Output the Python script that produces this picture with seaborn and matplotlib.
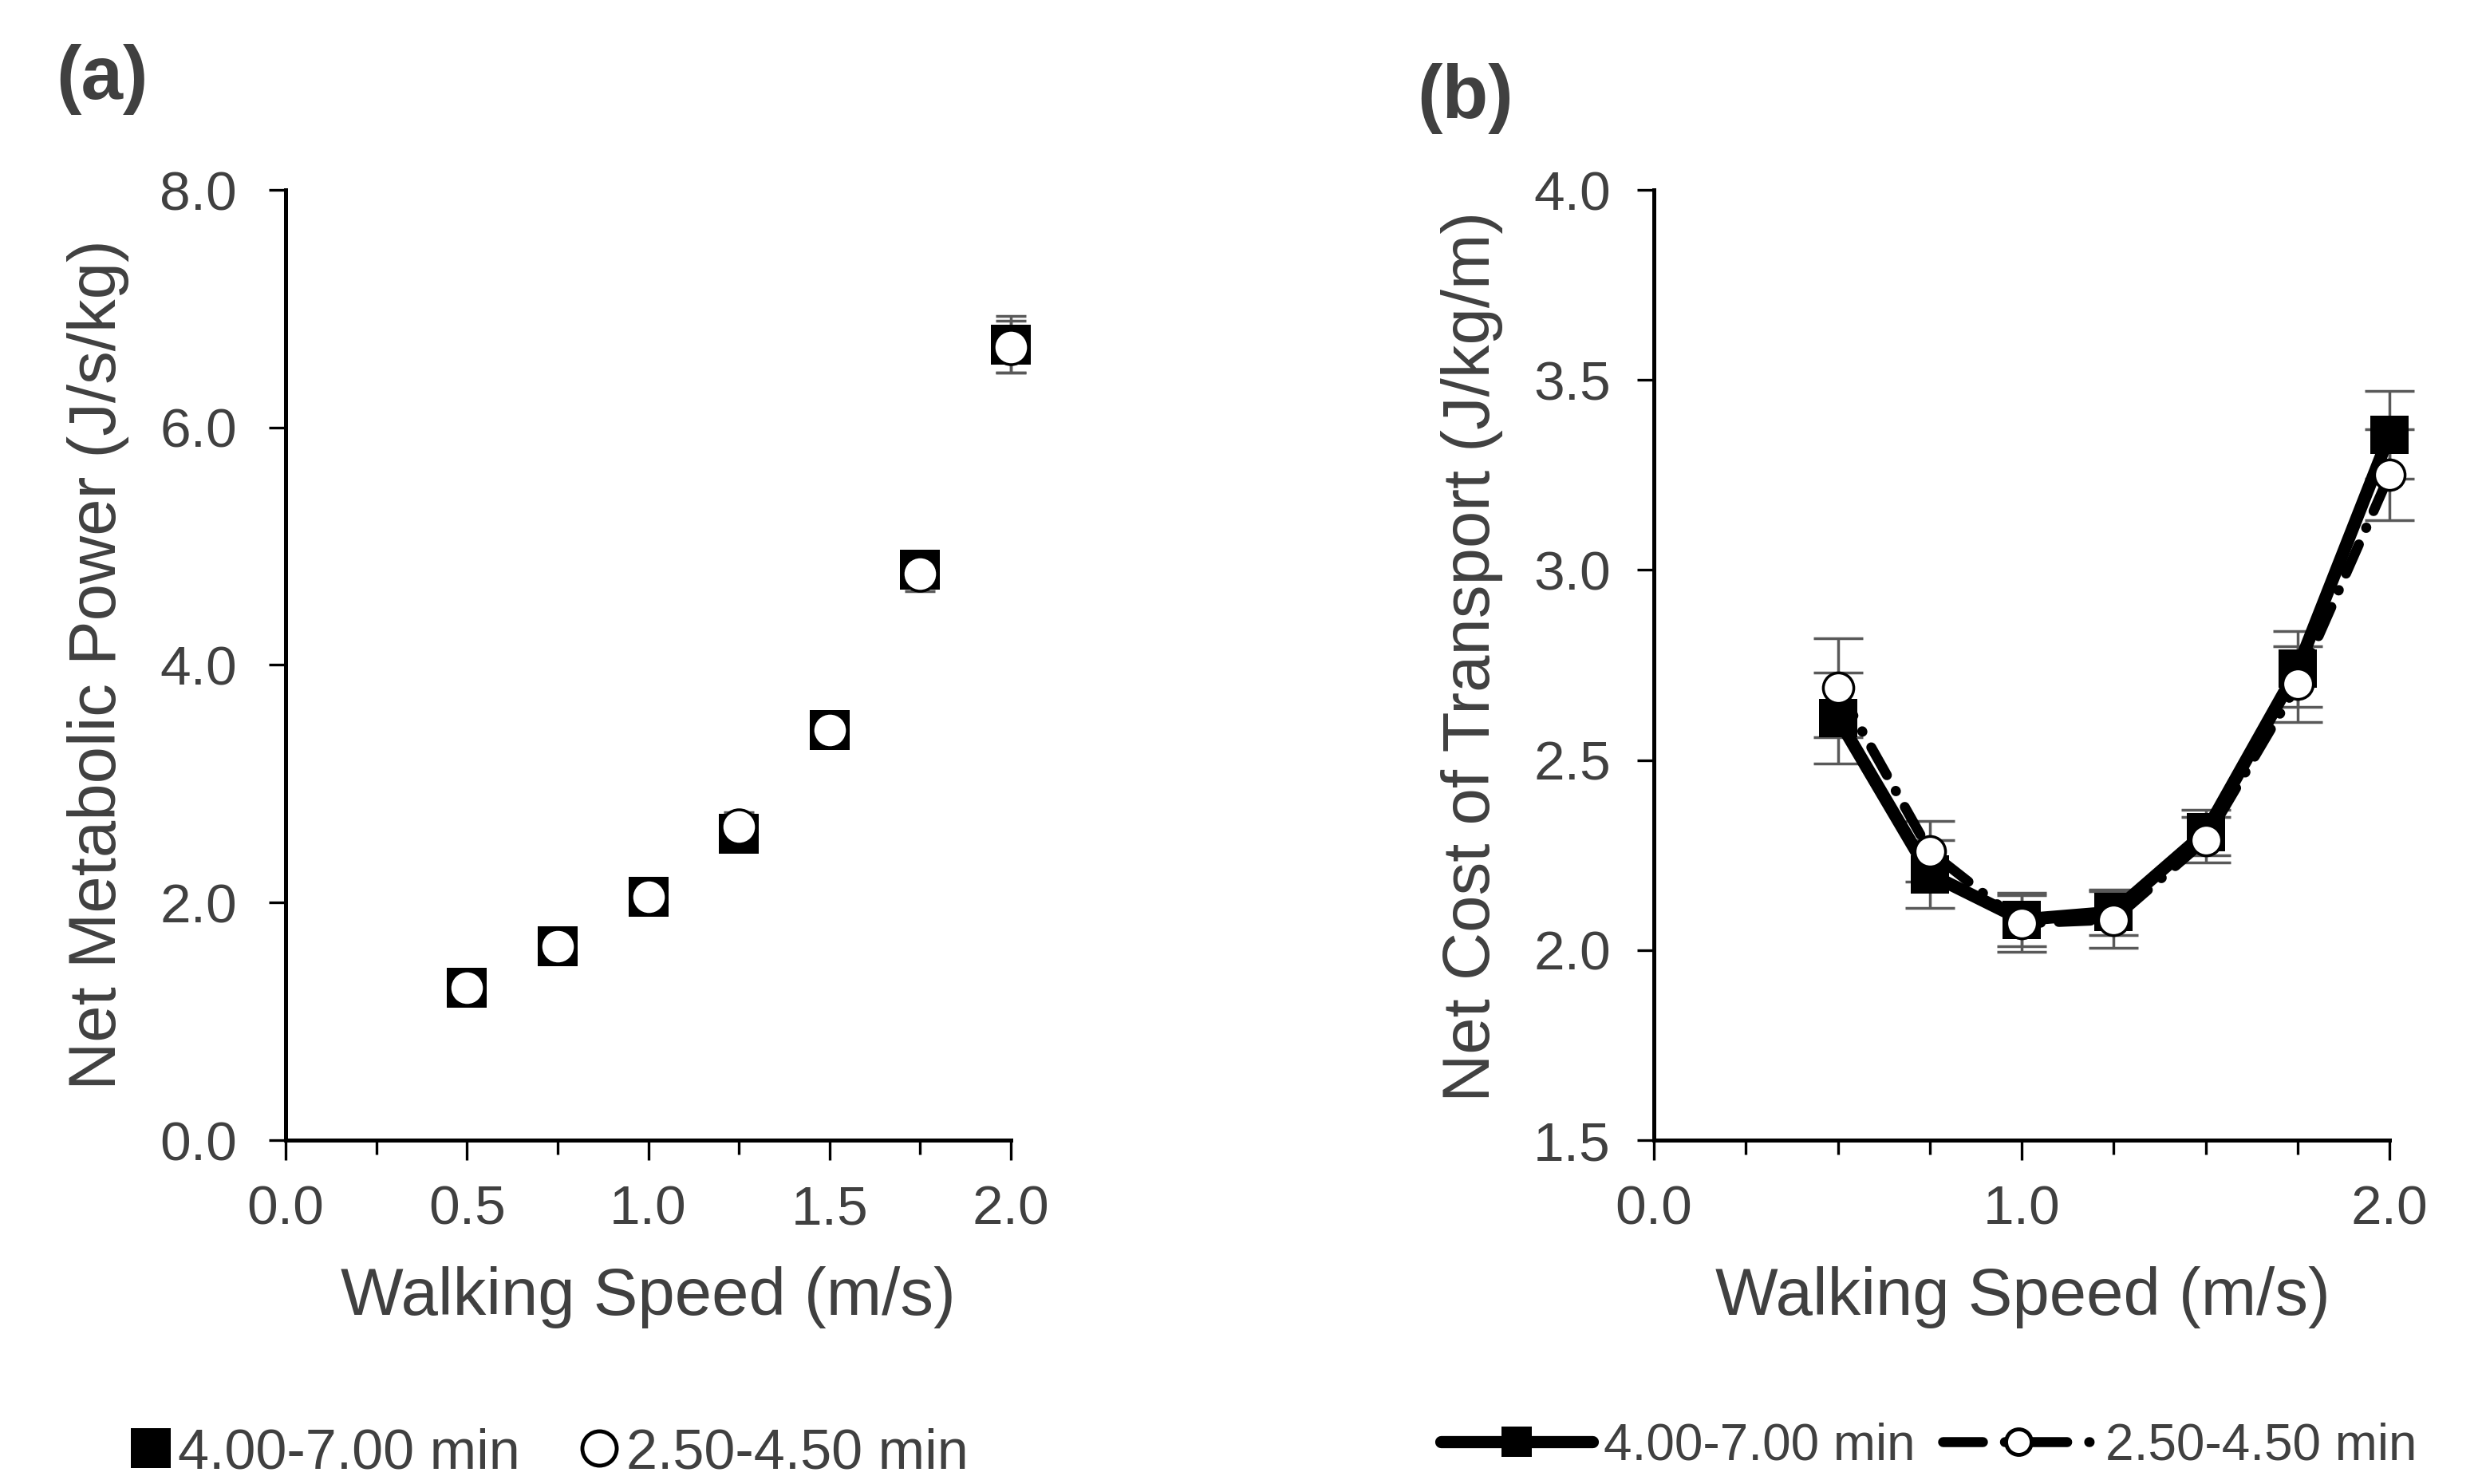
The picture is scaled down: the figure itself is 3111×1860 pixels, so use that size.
import numpy as np
import pandas as pd
import matplotlib
matplotlib.use('Agg')
import matplotlib.pyplot as plt
import seaborn as sns
from matplotlib.lines import Line2D
from matplotlib.ticker import MultipleLocator, FormatStrFormatter

# ---------------- data ----------------
speeds = [0.5, 0.75, 1.0, 1.25, 1.5, 1.75, 2.0]
series_labels = ["4.00-7.00 min", "2.50-4.50 min"]

power_long = [1.28, 1.63, 2.05, 2.58, 3.45, 4.80, 6.70]
power_short = [1.28, 1.63, 2.05, 2.64, 3.45, 4.77, 6.68]
power_long_sd = [0.08, 0.09, 0.10, 0.12, 0.12, 0.15, 0.24]
power_short_sd = [0.08, 0.09, 0.10, 0.12, 0.12, 0.15, 0.22]

cot_long = [2.61, 2.20, 2.08, 2.10, 2.31, 2.74, 3.355]
cot_short = [2.69, 2.26, 2.07, 2.08, 2.29, 2.70, 3.25]
cot_long_sd = [0.12, 0.09, 0.07, 0.06, 0.06, 0.10, 0.115]
cot_short_sd = [0.13, 0.08, 0.075, 0.075, 0.06, 0.10, 0.12]

# ---------------- style ----------------
sns.set_theme(style='white')
plt.rcParams['font.family'] = ['Liberation Sans', 'DejaVu Sans']
TXT = '#404040'
ERR = '#595959'

W, H = 3111, 1860
fig = plt.figure(figsize=(W / 100, H / 100), dpi=100)
fig.patch.set_facecolor('white')

axA = fig.add_axes([358 / W, 1 - 1429 / H, 909 / W, 1191 / H])
axB = fig.add_axes([2073 / W, 1 - 1429 / H, 922 / W, 1191 / H])

TICK_FS = 50
LAB_FS = 60

def style_axes(ax, ypad):
    for s in ['top', 'right']:
        ax.spines[s].set_visible(False)
    for s in ['left', 'bottom']:
        ax.spines[s].set_color('black')
        ax.spines[s].set_linewidth(3.6)
    ax.set_facecolor('white')
    ax.grid(False)
    ax.tick_params(axis='both', which='both', direction='out', color='black',
                   labelcolor=TXT, labelsize=TICK_FS)
    ax.tick_params(axis='x', which='major', length=18, width=2.4, pad=22,
                   bottom=True)
    ax.tick_params(axis='x', which='minor', length=13, width=2.4, bottom=True)
    ax.tick_params(axis='y', which='major', length=15, width=2.4, pad=ypad,
                   left=True)

# ---------------- panel (a) ----------------
axA.errorbar(speeds, power_long, yerr=power_long_sd, fmt='none', ecolor=ERR,
             elinewidth=2.5, capsize=14, capthick=2.5, zorder=2, clip_on=False)
axA.errorbar(speeds, power_short, yerr=power_short_sd, fmt='none', ecolor=ERR,
             elinewidth=2.5, capsize=14, capthick=2.5, zorder=2, clip_on=False)
sns.scatterplot(x=speeds, y=power_long, marker='s', s=36 ** 2, color='black',
                edgecolor='black', linewidth=0, ax=axA, zorder=3, clip_on=False)
sns.scatterplot(x=speeds, y=power_short, marker='o', s=31 ** 2, color='white',
                edgecolor='black', linewidth=2.5, ax=axA, zorder=4, clip_on=False)

axA.set_xlim(0, 2.0)
axA.set_ylim(0, 8.0)
axA.xaxis.set_major_locator(MultipleLocator(0.5))
axA.xaxis.set_minor_locator(MultipleLocator(0.25))
axA.yaxis.set_major_locator(MultipleLocator(2.0))
axA.xaxis.set_major_formatter(FormatStrFormatter('%.1f'))
axA.yaxis.set_major_formatter(FormatStrFormatter('%.1f'))
style_axes(axA, 29)
axA.set_xlabel('Walking Speed (m/s)', fontsize=LAB_FS, color=TXT)
axA.set_ylabel('Net Metabolic Power (J/s/kg)', fontsize=LAB_FS, color=TXT)
axA.xaxis.set_label_coords(0.50, -0.184)
axA.xaxis.label.set_va('baseline')
axA.yaxis.set_label_coords(-0.2585, 0.50)
axA.yaxis.label.set_va('center')

# ---------------- panel (b) ----------------
axB.errorbar(speeds, cot_long, yerr=cot_long_sd, fmt='none', ecolor=ERR,
             elinewidth=2.5, capsize=22, capthick=2.5, zorder=2, clip_on=False)
axB.errorbar(speeds, cot_short, yerr=cot_short_sd, fmt='none', ecolor=ERR,
             elinewidth=2.5, capsize=22, capthick=2.5, zorder=2, clip_on=False)
sns.lineplot(x=speeds, y=cot_long, color='black', lw=11.5, marker='s',
             markersize=34, markeredgewidth=0, ax=axB, zorder=3, clip_on=False)
sns.lineplot(x=speeds, y=cot_short, color='black', lw=9,
             linestyle=(0, (3.2, 1.8, 0.05, 1.8)), dash_capstyle='round',
             marker='o', markersize=27.5, markerfacecolor='white',
             markeredgecolor='black', markeredgewidth=2.5, ax=axB, zorder=4,
             clip_on=False)

axB.set_xlim(0, 2.0)
axB.set_ylim(1.5, 4.0)
axB.xaxis.set_major_locator(MultipleLocator(1.0))
axB.xaxis.set_minor_locator(MultipleLocator(0.25))
axB.yaxis.set_major_locator(MultipleLocator(0.5))
axB.xaxis.set_major_formatter(FormatStrFormatter('%.1f'))
axB.yaxis.set_major_formatter(FormatStrFormatter('%.1f'))
style_axes(axB, 24)
axB.set_xlabel('Walking Speed (m/s)', fontsize=LAB_FS, color=TXT)
axB.set_ylabel('Net Cost of Transport (J/kg/m)', fontsize=LAB_FS, color=TXT)
axB.xaxis.set_label_coords(0.502, -0.184)
axB.xaxis.label.set_va('baseline')
axB.yaxis.set_label_coords(-0.247, 0.509)
axB.yaxis.label.set_va('center')

# ---------------- legends ----------------
hA = [Line2D([], [], ls='none', marker='s', ms=36, color='black', mew=0),
      Line2D([], [], ls='none', marker='o', ms=31, markerfacecolor='white',
             markeredgecolor='black', mew=3.5)]
legA = fig.legend(hA, series_labels, loc='center left',
                  bbox_to_anchor=(163 / W, 1 - 1822 / H), ncol=2, frameon=False,
                  fontsize=50.5, handlelength=0.75, handletextpad=0.1,
                  columnspacing=1.05, borderpad=0, borderaxespad=0)
for t in legA.get_texts():
    t.set_color(TXT)

hB = [Line2D([], [], color='black', lw=11, marker='s', ms=27, mew=0),
      Line2D([], [], color='black', lw=9, ls=(0, (4.0, 2.2, 0.05, 2.2)),
             dash_capstyle='round', marker='o', ms=23, markerfacecolor='white',
             markeredgecolor='black', mew=3.5)]
legB = fig.legend(hB, series_labels, loc='center left',
                  bbox_to_anchor=(1806 / W, 1 - 1812 / H), ncol=2, frameon=False,
                  fontsize=46, handlelength=2.97, handletextpad=0.23,
                  columnspacing=0.53, borderpad=0, borderaxespad=0)
for t in legB.get_texts():
    t.set_color(TXT)

# ---------------- panel letters ----------------
fig.text(70 / W, 1 - 100 / H, '(a)', fontsize=68, fontweight='bold', color=TXT,
         ha='left', va='center')
fig.text(1776 / W, 1 - 124 / H, '(b)', fontsize=68, fontweight='bold', color=TXT,
         ha='left', va='center')

fig.savefig('out.png', dpi=100, facecolor='white')
